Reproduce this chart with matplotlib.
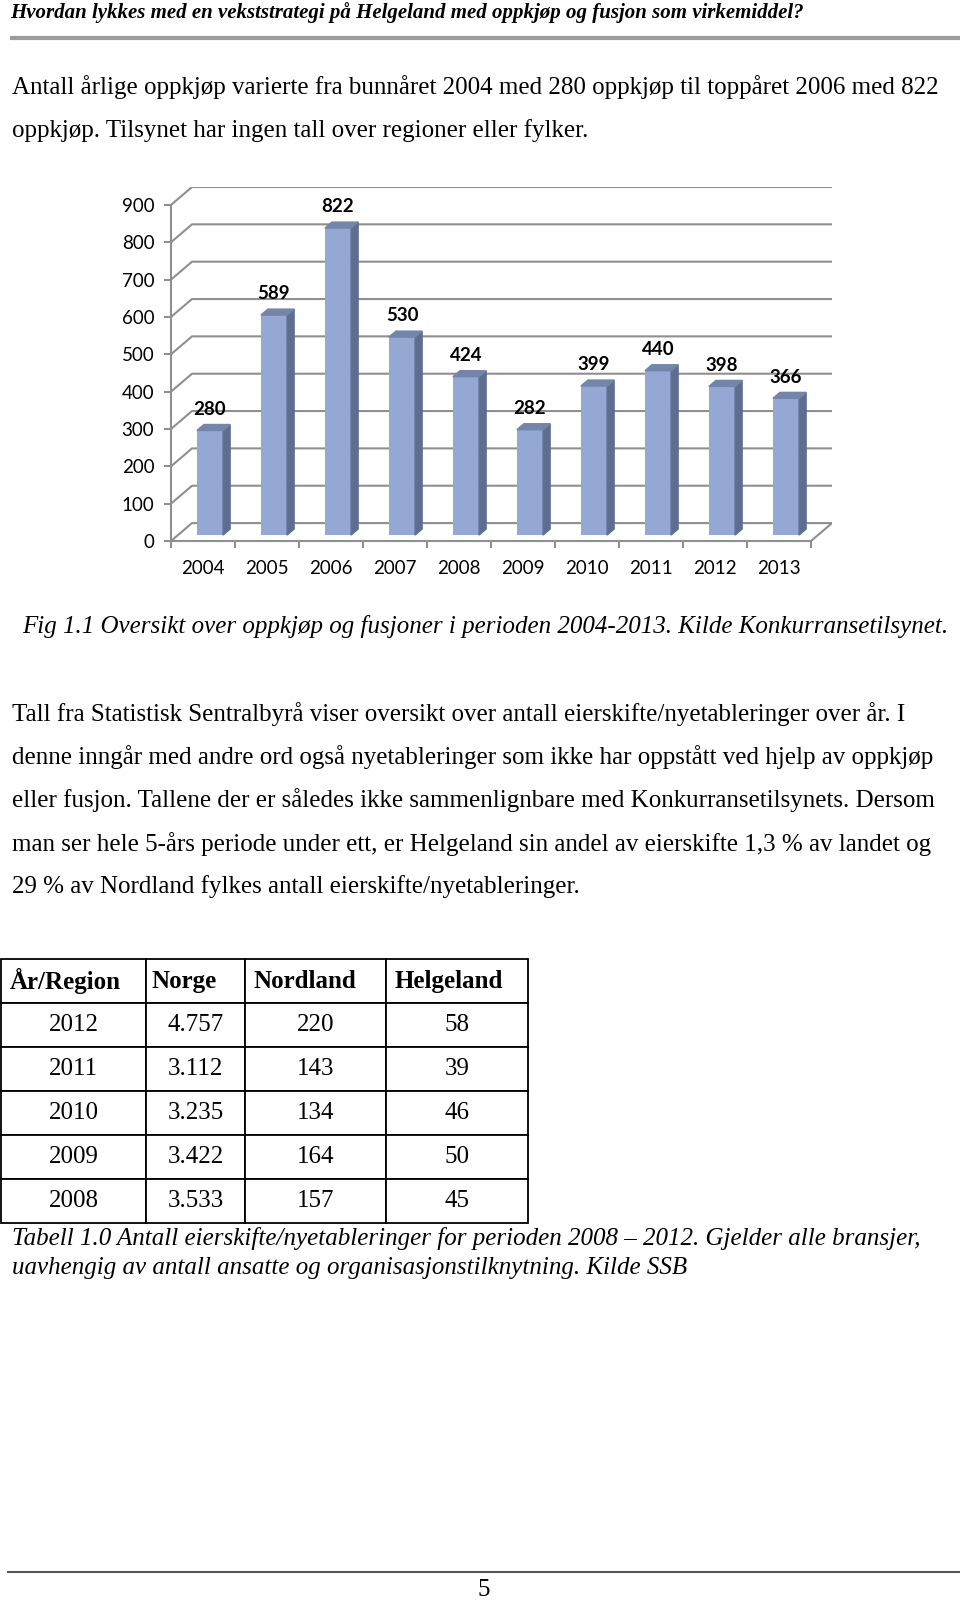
import matplotlib
matplotlib.use('Agg')
import matplotlib.pyplot as plt
from matplotlib.patches import Polygon

# ------------------------------------------------------------
# data
# ------------------------------------------------------------
years = ['2004', '2005', '2006', '2007', '2008', '2009', '2010', '2011', '2012', '2013']
oppkjop = [280, 589, 822, 530, 424, 282, 399, 440, 398, 366]
y_ticks = [0, 100, 200, 300, 400, 500, 600, 700, 800, 900]

tab_header = ['År/Region', 'Norge', 'Nordland', 'Helgeland']
tab_years = ['2012', '2011', '2010', '2009', '2008']
tab_norge = ['4.757', '3.112', '3.235', '3.422', '3.533']
tab_nordland = [220, 143, 134, 164, 157]
tab_helgeland = [58, 39, 46, 50, 45]

SERIF = 'Liberation Serif'
SANS = 'Lato'

fig = plt.figure(figsize=(9.6, 16), dpi=100)
fig.patch.set_facecolor('white')

# page axes in pixel coordinates
page = fig.add_axes([0, 0, 1, 1])
page.set_xlim(0, 960)
page.set_ylim(1600, 0)
page.axis('off')

page.text(10, 13, 'Hvordan lykkes med en vekststrategi på Helgeland med oppkjøp og fusjon som virkemiddel?',
          family=SERIF, weight='bold', style='italic', fontsize=15, va='center', ha='left')
page.plot([10, 960], [38, 38], color='#9c9c9c', lw=3, solid_capstyle='butt')

body = dict(family=SERIF, fontsize=18, va='center', ha='left')
page.text(12, 87, 'Antall årlige oppkjøp varierte fra bunnåret 2004 med 280 oppkjøp til toppåret 2006 med 822', **body)
page.text(12, 131, 'oppkjøp. Tilsynet har ingen tall over regioner eller fylker.', **body)

page.text(22, 627, 'Fig 1.1 Oversikt over oppkjøp og fusjoner i perioden 2004-2013. Kilde Konkurransetilsynet.',
          family=SERIF, style='italic', fontsize=18, va='center', ha='left')

para = ['Tall fra Statistisk Sentralbyrå viser oversikt over antall eierskifte/nyetableringer over år. I',
        'denne inngår med andre ord også nyetableringer som ikke har oppstått ved hjelp av oppkjøp',
        'eller fusjon. Tallene der er således ikke sammenlignbare med Konkurransetilsynets. Dersom',
        'man ser hele 5-års periode under ett, er Helgeland sin andel av eierskifte 1,3 % av landet og',
        '29 % av Nordland fylkes antall eierskifte/nyetableringer.']
for i, line in enumerate(para):
    page.text(12, 714 + i * 43.2, line, **body)

cap = dict(family=SERIF, style='italic', fontsize=18, va='center', ha='left')
page.text(12, 1238, 'Tabell 1.0 Antall eierskifte/nyetableringer for perioden 2008 – 2012. Gjelder alle bransjer,', **cap)
page.text(12, 1268, 'uavhengig av antall ansatte og organisasjonstilknytning. Kilde SSB', **cap)

page.plot([8, 960], [1572, 1572], color='#555555', lw=1.5)
page.text(484, 1590, '5', family=SERIF, fontsize=18, va='center', ha='center')

# ------------------------------------------------------------
# 3D-style bar chart
# ------------------------------------------------------------
px_l, px_r, px_t, px_b = 171, 832, 187, 541
ax = fig.add_axes([px_l / 960, (1600 - px_b) / 1600, (px_r - px_l) / 960, (px_b - px_t) / 1600])

n = len(years)
dx = 21 / 64.0          # depth shift in x (category units)
dy = 48.0               # depth shift in y (value units)
w = 0.41
ax.set_xlim(-0.5, n - 0.5 + dx)
ax.set_ylim(0, 900 + dy)

grid_c = '#8f8f8f'
for v in y_ticks:
    ax.plot([-0.5, -0.5 + dx, n - 0.5 + dx], [v, v + dy, v + dy], color=grid_c, lw=1.5, zorder=1)
ax.plot([n - 0.5, n - 0.5 + dx], [0, dy], color=grid_c, lw=1.5, zorder=1)

front_c = '#94a8d3'
side_c = '#5e6e8f'
top_c = '#7385ab'
xs = list(range(n))
ax.bar([x + dx / 3 for x in xs], oppkjop, width=w, bottom=dy / 3, color=front_c, zorder=3)
for x, v in zip(xs, oppkjop):
    xf = x + dx / 3
    xb = x + 2 * dx / 3
    ax.add_patch(Polygon([(xf + w / 2, dy / 3), (xb + w / 2, 2 * dy / 3),
                          (xb + w / 2, v + 2 * dy / 3), (xf + w / 2, v + dy / 3)],
                         closed=True, color=side_c, zorder=3))
    ax.add_patch(Polygon([(xf - w / 2, v + dy / 3), (xf + w / 2, v + dy / 3),
                          (xb + w / 2, v + 2 * dy / 3), (xb - w / 2, v + 2 * dy / 3)],
                         closed=True, color=top_c, zorder=3))
    ax.annotate(str(v), (xf, v + 2 * dy / 3), xytext=(0, 11), textcoords='offset points',
                ha='center', va='center', family=SANS, weight='bold', fontsize=13.5, zorder=4)

for s in ['top', 'right']:
    ax.spines[s].set_visible(False)
ax.spines['left'].set_bounds(0, 900)
ax.spines['bottom'].set_bounds(-0.5, n - 0.5)
for s in ['left', 'bottom']:
    ax.spines[s].set_color(grid_c)
    ax.spines[s].set_linewidth(1.5)

ax.set_yticks(y_ticks)
ax.set_yticklabels([str(t) for t in y_ticks], family=SANS, fontsize=13.5)
ax.tick_params(axis='y', length=5, width=1.5, color=grid_c, pad=7)

ax.set_xticks([i - 0.5 for i in range(n + 1)])
ax.set_xticklabels([])
ax.tick_params(axis='x', which='major', length=5, width=1.5, color=grid_c)
ax.set_xticks(xs, minor=True)
ax.set_xticklabels(years, minor=True, family=SANS, fontsize=13.5)
ax.tick_params(axis='x', which='minor', length=0, pad=14)
ax.set_facecolor('none')

# ------------------------------------------------------------
# table
# ------------------------------------------------------------
t_l, t_r, t_t, t_b = 1, 528, 959, 1223
tax = fig.add_axes([t_l / 960, (1600 - t_b) / 1600, (t_r - t_l) / 960, (t_b - t_t) / 1600])
tax.axis('off')
rows = [[y, a, str(b), str(c)] for y, a, b, c in zip(tab_years, tab_norge, tab_nordland, tab_helgeland)]
col_w = [145 / 527, 99 / 527, 141 / 527, 142 / 527]
tbl = tax.table(cellText=rows, colLabels=tab_header, colWidths=col_w, bbox=[0, 0, 1, 1], cellLoc='center')
tbl.auto_set_font_size(False)
for (r, c), cell in tbl.get_celld().items():
    cell.set_edgecolor('black')
    cell.set_linewidth(1.3)
    if r == 0:
        cell.get_text().set_fontproperties(matplotlib.font_manager.FontProperties(family=SERIF, weight='bold', size=18))
        cell.get_text().set_ha('left')
        cell.PAD = 0.06
        cell._loc = 'left'
    else:
        cell.get_text().set_fontproperties(matplotlib.font_manager.FontProperties(family=SERIF, size=18))

fig.savefig('out.png', dpi=100, facecolor='white')
